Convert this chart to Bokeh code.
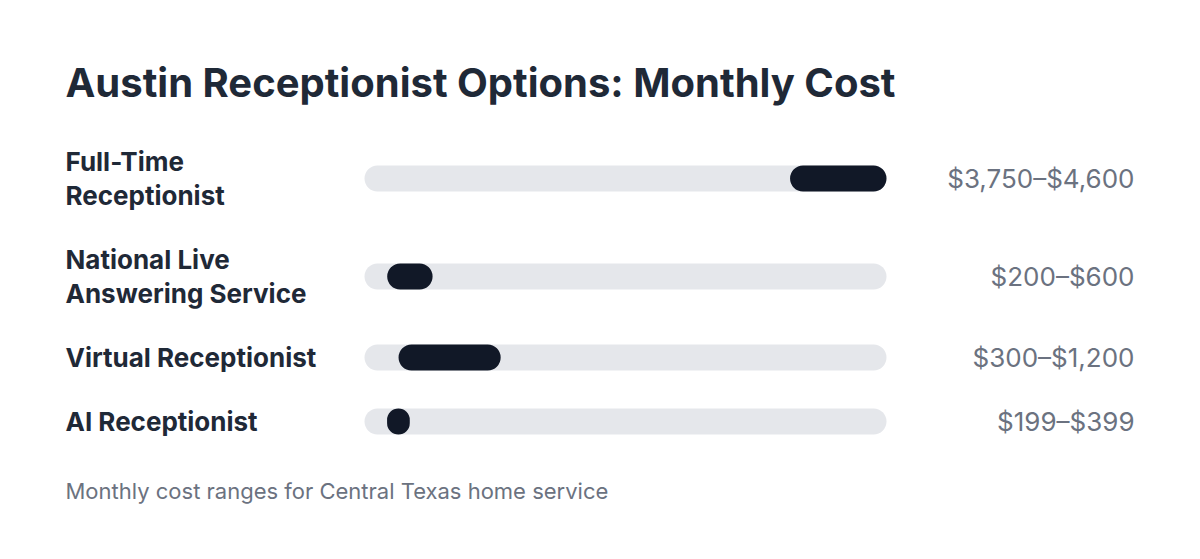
from bokeh.embed import file_html
from bokeh.models import ColumnDataSource, Label, Range1d
from bokeh.plotting import figure
from bokeh.resources import INLINE

# data
options = ["Full-Time\nReceptionist", "National Live\nAnswering Service",
           "Virtual Receptionist", "AI Receptionist"]
low = [3750, 200, 300, 199]
high = [4600, 600, 1200, 399]
price_labels = ["$3,750\u2013$4,600", "$200\u2013$600", "$300\u2013$1,200", "$199\u2013$399"]
scale_max = 4600

# layout (pixels from the top-left of the figure)
W, H = 1184, 543
row_y = [178, 276, 357, 421]
track_left, track_right = 364, 886
px_per_dollar = (track_right - track_left) / scale_max

# x range in dollars, placed so the track sits at track_left..track_right
x0 = -track_left / px_per_dollar
x1 = x0 + W / px_per_dollar

p = figure(width=W, height=H, output_backend="svg", toolbar_location=None,
           x_range=Range1d(x0, x1), y_range=Range1d(H, 0),
           min_border=0, outline_line_color=None, background_fill_color="white")
p.axis.visible = False
p.grid.visible = False

src = ColumnDataSource(dict(y=row_y, low=low, high=high, zero=[0] * 4,
                            top=[scale_max] * 4))

# track
p.hbar(y="y", left="zero", right="top", height=26, source=src,
       fill_color="#e5e7eb", line_color=None, border_radius=13)
# range
p.hbar(y="y", left="low", right="high", height=26, source=src,
       fill_color="#111827", line_color=None, border_radius=13)

FONT = "Inter"


def label(x, y, text, **kw):
    p.add_layout(Label(x=x, y=H - y, x_units="screen", y_units="screen",
                       text=text, text_font=FONT, text_baseline="middle", **kw))


label(65, 82, "Austin Receptionist Options: Monthly Cost",
      text_font_style="bold", text_font_size="40px", text_color="#1f2937")

for name, yy, lab in zip(options, row_y, price_labels):
    label(65, yy, name, text_font_style="bold", text_font_size="26px",
          text_color="#1f2937", text_line_height=1.08)
    label(1134, yy, lab, text_font_size="26px", text_color="#6b7280",
          text_align="right")

label(65, 490, "Monthly cost ranges for Central Texas home service",
      text_font_size="22px", text_color="#6b7280")

open("out.html", "w").write(file_html(p, INLINE))
